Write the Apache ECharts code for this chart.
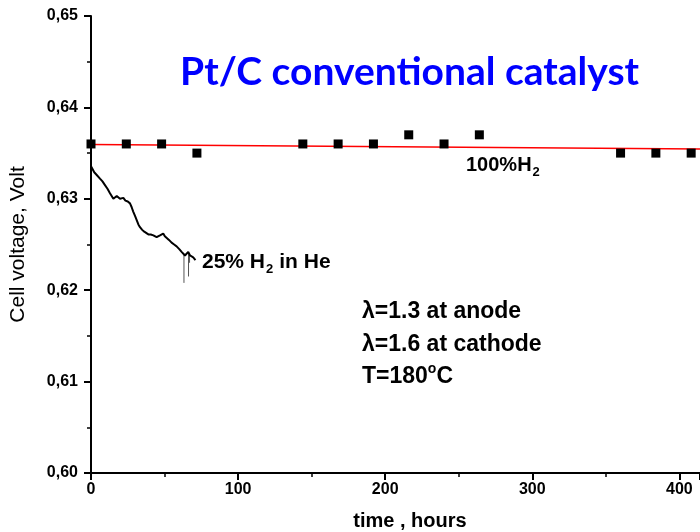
<!DOCTYPE html>
<html>
<head>
<meta charset="utf-8">
<script src="https://cdn.jsdelivr.net/npm/echarts@6/dist/echarts.min.js"></script>
<style>
  html, body { margin: 0; padding: 0; background: #fff; }
  #chart { width: 700px; height: 532px; }
</style>
</head>
<body>
<div id="chart"></div>
<script>
// Axis ranges and ticks
const xRange = [0, 414];
const yRange = [0.60, 0.65];
const xStep = 100;
const yStep = 0.01;

// 100% H2: periodic polarization points (time h, cell voltage V)
const h2Time = [0, 24, 48, 72, 144, 168, 192, 216, 240, 264, 360, 384, 408];
const h2Volt = [0.636, 0.636, 0.636, 0.635, 0.636, 0.636, 0.636, 0.637, 0.636, 0.637, 0.635, 0.635, 0.635];

// Linear trend through the 100% H2 points (end points)
const trendTime = [0, 414];
const trendVolt = [0.63595, 0.63545];

// 25% H2 in He: continuous voltage log
const mixTime = [0.2, 0.9, 2.2, 3.0, 3.9, 5.0, 6.1, 7.8, 8.6, 9.5, 11.2, 12.0, 12.9, 14.0, 15.2, 16.2, 17.5, 18.6, 19.7, 21.0, 22.0, 23.4, 25.0, 26.5,
  27.6, 28.7, 30.0, 31.0, 32.2, 33.3, 34.8, 36.2, 37.5, 39.0, 40.6, 42.4, 44.6, 45.8, 46.9, 48.0, 49.1, 50.2, 51.4, 53.0, 54.8, 56.5, 58.2, 60.0, 61.6,
  62.8, 63.9, 65.0, 66.1, 67.3, 68.4, 69.5, 70.2, 71.0];
const mixVolt = [0.6335, 0.6333, 0.6329, 0.6328, 0.6326, 0.6324, 0.6322, 0.6319, 0.6318, 0.6315, 0.6311, 0.6309, 0.6306, 0.6304, 0.6300, 0.6302, 0.6303, 0.6301, 0.6300, 0.6301, 0.6301, 0.6298, 0.6297, 0.6295,
  0.6291, 0.6286, 0.6281, 0.6277, 0.6272, 0.6269, 0.6266, 0.6264, 0.6262, 0.6261, 0.6261, 0.6260, 0.6258, 0.6259, 0.6260, 0.6261, 0.6262, 0.6259, 0.6257, 0.6255, 0.6252, 0.6250, 0.6248, 0.6245, 0.6242,
  0.6240, 0.6238, 0.6240, 0.6242, 0.6238, 0.6240, 0.6236, 0.6235, 0.6233];

// Short downward spikes in the 25% H2 log (time, top, bottom)
const spikeTime = [63.2, 66.3, 67.0];
const spikeTop = [0.6240, 0.6241, 0.6239];
const spikeBottom = [0.6208, 0.6215, 0.6230];

const pairs = (xs, ys) => xs.map((x, i) => [x, ys[i]]);
const spikeData = [];
spikeTime.forEach((t, i) => {
  spikeData.push([t, spikeTop[i]], [t, spikeBottom[i]], [t, null]);
});

const tickFont = { fontFamily: 'Liberation Sans', fontWeight: 'bold', fontSize: 16, color: '#000' };
const noteFont = 'Liberation Sans';

const chart = echarts.init(document.getElementById('chart'), null, { renderer: 'canvas' });
chart.setOption({
  animation: false,
  backgroundColor: '#fff',
  grid: { left: 91, right: 0, top: 16, bottom: 59, containLabel: false },
  xAxis: {
    type: 'value', min: xRange[0], max: xRange[1], interval: xStep,
    axisLine: { show: true, lineStyle: { color: '#000', width: 2 } },
    axisTick: { show: true, length: 7, lineStyle: { color: '#000', width: 2 } },
    minorTick: { show: true, splitNumber: 2, length: 4, lineStyle: { color: '#000', width: 1.5 } },
    splitLine: { show: false },
    axisLabel: Object.assign({ margin: 9 }, tickFont)
  },
  yAxis: {
    type: 'value', min: yRange[0], max: yRange[1], interval: yStep,
    axisLine: { show: true, lineStyle: { color: '#000', width: 2 } },
    axisTick: { show: true, length: 7, lineStyle: { color: '#000', width: 2 } },
    minorTick: { show: true, splitNumber: 2, length: 4, lineStyle: { color: '#000', width: 1.5 } },
    splitLine: { show: false },
    axisLabel: Object.assign({ margin: 13, formatter: v => v.toFixed(2).replace('.', ',') }, tickFont),
    name: 'Cell voltage, Volt',
    nameLocation: 'middle',
    nameGap: 62,
    nameTextStyle: { fontFamily: 'Liberation Sans', fontSize: 21, color: '#000' }
  },
  series: [
    {
      name: 'trend', type: 'line', data: pairs(trendTime, trendVolt),
      symbol: 'none', lineStyle: { color: '#ff0000', width: 1.5 }, z: 2
    },
    {
      name: '100% H2', type: 'scatter', data: pairs(h2Time, h2Volt),
      symbol: 'rect', symbolSize: 9, itemStyle: { color: '#000', opacity: 1 }, z: 3
    },
    {
      name: '25% H2 in He', type: 'line', data: pairs(mixTime, mixVolt),
      symbol: 'none', lineStyle: { color: '#000', width: 2 }, z: 3
    },
    {
      name: 'spikes', type: 'line', data: spikeData, connectNulls: false,
      symbol: 'none', lineStyle: { color: '#555', width: 1 }, z: 2
    }
  ],
  graphic: [
    {
      type: 'text', left: 180, top: 53,
      style: { text: 'Pt/C conventional catalyst', fill: '#0000ff', font: 'bold 39px Lato' }
    },
    {
      type: 'text', x: 466, y: 165,
      style: {
        text: '100%H{sub|2}', fill: '#000', font: 'bold 20px ' + noteFont, verticalAlign: 'middle',
        rich: { sub: { fontSize: 13, fontWeight: 'bold', fontFamily: noteFont, padding: [15, 0, 0, 1] } }
      }
    },
    {
      type: 'text', x: 202, y: 262,
      style: {
        text: '25% H{sub|2}in He', fill: '#000', font: 'bold 21px ' + noteFont, verticalAlign: 'middle',
        rich: { sub: { fontSize: 13, fontWeight: 'bold', fontFamily: noteFont, padding: [15, 6, 0, 1] } }
      }
    },
    {
      type: 'text', x: 362, y: 312,
      style: { text: 'λ=1.3 at anode', fill: '#000', font: 'bold 23px ' + noteFont, verticalAlign: 'middle' }
    },
    {
      type: 'text', x: 362, y: 345,
      style: { text: 'λ=1.6 at cathode', fill: '#000', font: 'bold 23px ' + noteFont, verticalAlign: 'middle' }
    },
    {
      type: 'text', x: 362, y: 377,
      style: {
        text: 'T=180{sup|o}C', fill: '#000', font: 'bold 23px ' + noteFont, verticalAlign: 'middle',
        rich: { sup: { fontSize: 14, fontWeight: 'bold', fontFamily: noteFont, padding: [0, 0, 15, 0] } }
      }
    },
    {
      type: 'text', x: 410, y: 521,
      style: { text: 'time , hours', fill: '#000', font: 'bold 20px ' + noteFont, align: 'center', verticalAlign: 'middle' }
    }
  ]
});
</script>
</body>
</html>
